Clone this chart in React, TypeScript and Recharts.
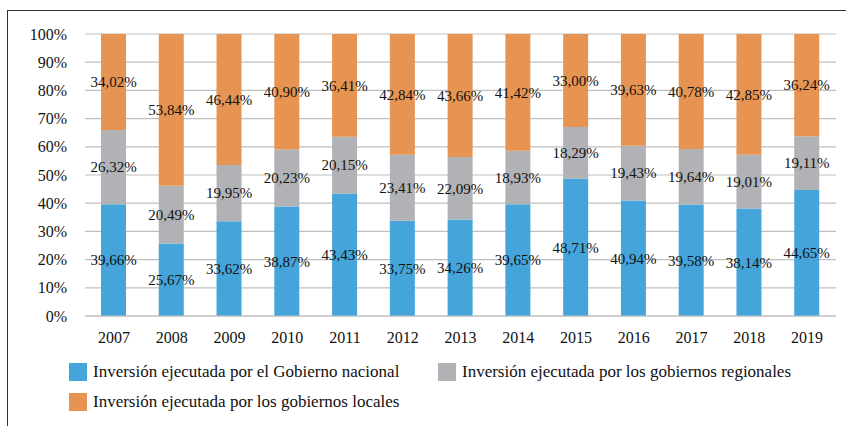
import { BarChart, Bar, XAxis, YAxis, CartesianGrid, Legend, LabelList } from 'recharts';

// Años y participación (%) de cada nivel de gobierno
const years = ['2007', '2008', '2009', '2010', '2011', '2012', '2013', '2014', '2015', '2016', '2017', '2018', '2019'];
const nacional = [39.66, 25.67, 33.62, 38.87, 43.43, 33.75, 34.26, 39.65, 48.71, 40.94, 39.58, 38.14, 44.65];
const regionales = [26.32, 20.49, 19.95, 20.23, 20.15, 23.41, 22.09, 18.93, 18.29, 19.43, 19.64, 19.01, 19.11];
const locales = [34.02, 53.84, 46.44, 40.9, 36.41, 42.84, 43.66, 41.42, 33.0, 39.63, 40.78, 42.85, 36.24];
const yTicks = [0, 0.1, 0.2, 0.3, 0.4, 0.5, 0.6, 0.7, 0.8, 0.9, 1];

const series = [
  { key: 'nacional', name: 'Inversión ejecutada por el Gobierno nacional', color: '#45A5DA' },
  { key: 'regionales', name: 'Inversión ejecutada por los gobiernos regionales', color: '#B1B2B5' },
  { key: 'locales', name: 'Inversión ejecutada por los gobiernos locales', color: '#E79452' },
];

const data = years.map((year, i) => ({
  year,
  nacional: nacional[i],
  regionales: regionales[i],
  locales: locales[i],
}));

const FONT = '"Liberation Serif", "Times New Roman", serif';

const fmt = (v: any) => `${Number(v).toFixed(2).replace('.', ',')}%`;

const LEGEND_H = 60;

function LegendBox() {
  const item = (s: (typeof series)[number], left: number, top: number) => (
    <div key={s.key} style={{ position: 'absolute', left, top, height: 18, display: 'flex', alignItems: 'center' }}>
      <div style={{ width: 18, height: 18, background: s.color, marginRight: 6 }} />
      <span style={{ fontFamily: FONT, fontSize: 17, lineHeight: '18px', color: '#111', whiteSpace: 'nowrap' }}>{s.name}</span>
    </div>
  );
  return (
    <div style={{ position: 'relative', width: 846, height: LEGEND_H }}>
      {item(series[0], 69, 0)}
      {item(series[1], 438, 0)}
      {item(series[2], 69, 30)}
    </div>
  );
}

export default function App() {
  return (
    <div style={{ position: 'absolute', left: 0, top: 0, width: 846, height: 426, background: '#fff', overflow: 'hidden' }}>
      <div
        style={{
          position: 'absolute',
          left: 7,
          top: 10,
          width: 900,
          height: 500,
          borderTop: '1.5px solid #333',
          borderLeft: '1.5px solid #333',
        }}
      />
      <BarChart
        width={846}
        height={426}
        data={data}
        stackOffset="expand"
        barSize={25}
        margin={{ top: 34, right: 10, left: 0, bottom: 110 - 30 - LEGEND_H }}
      >
        <CartesianGrid vertical={false} stroke="#BFBFBF" strokeWidth={1.2} />
        <XAxis
          dataKey="year"
          height={30}
          axisLine={{ stroke: '#BFBFBF', strokeWidth: 1.2 }}
          tickLine={false}
          tickMargin={10}
          tick={{ fontFamily: FONT, fontSize: 16, fill: '#111' }}
        />
        <YAxis
          width={85}
          ticks={yTicks}
          domain={[0, 1]}
          interval={0}
          axisLine={false}
          tickLine={false}
          tickSize={0}
          tickMargin={18}
          tickFormatter={(v) => `${Math.round(v * 100)}%`}
          tick={{ fontFamily: FONT, fontSize: 16, fill: '#111' }}
        />
        <Legend
          verticalAlign="bottom"
          height={LEGEND_H}
          wrapperStyle={{ left: 0, top: 363, width: 846 }}
          content={() => <LegendBox />}
        />
        {series.map((s) => (
          <Bar key={s.key} dataKey={s.key} name={s.name} stackId="a" fill={s.color} isAnimationActive={false}>
            <LabelList
              dataKey={s.key}
              position="center"
              formatter={fmt}
              style={{ fontFamily: FONT, fontSize: 15, fill: '#111' }}
            />
          </Bar>
        ))}
      </BarChart>
    </div>
  );
}
